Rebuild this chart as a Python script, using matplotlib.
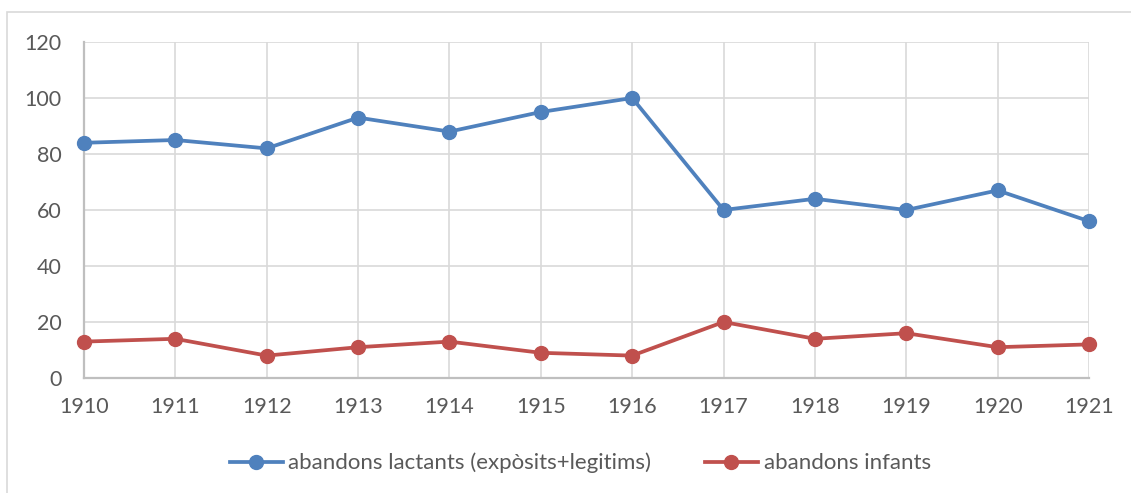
import matplotlib.pyplot as plt
from matplotlib.patches import Rectangle

years = [1910, 1911, 1912, 1913, 1914, 1915, 1916, 1917, 1918, 1919, 1920, 1921]
lactants = [84, 85, 82, 93, 88, 95, 100, 60, 64, 60, 67, 56]
infants = [13, 14, 8, 11, 13, 9, 8, 20, 14, 16, 11, 12]
yticks = [0, 20, 40, 60, 80, 100, 120]

plt.rcParams['font.family'] = ['Lato', 'DejaVu Sans']

W, H = 1131, 493
fig = plt.figure(figsize=(W / 100, H / 100), dpi=100)
fig.patches.append(Rectangle((7 / W, -0.1), 1.2, 1 - 12 / H + 0.1, transform=fig.transFigure,
                             fill=False, edgecolor='#d9d9d9', linewidth=1.2))

ax = fig.add_axes([84 / W, 1 - 378 / H, (1089 - 84) / W, (378 - 42) / H])
ax.plot(years, lactants, color='#4f81bd', lw=2.7, marker='o', ms=10,
        label='abandons lactants (expòsits+legitims)', zorder=3, clip_on=False)
ax.plot(years, infants, color='#c0504d', lw=2.7, marker='o', ms=10,
        label='abandons infants', zorder=3, clip_on=False)

ax.set_xlim(years[0], years[-1])
ax.set_ylim(0, 120)
ax.set_xticks(years)
ax.set_yticks(yticks)
ax.grid(True, color='#d9d9d9', lw=1.2)
ax.set_axisbelow(True)
for s in ['top', 'right']:
    ax.spines[s].set_visible(False)
for s in ['left', 'bottom']:
    ax.spines[s].set_color('#bfbfbf')
    ax.spines[s].set_linewidth(1.6)
    ax.spines[s].set_zorder(2.5)
ax.tick_params(length=0, labelsize=15.5, labelcolor='#595959')
ax.tick_params(axis='x', pad=14)
ax.tick_params(axis='y', pad=16)

fig.legend(loc='center', bbox_to_anchor=(0.513, 1 - 463 / H), ncol=2, frameon=False,
           fontsize=16, labelcolor='#595959', handlelength=2.4, columnspacing=2.4,
           handletextpad=0.25)

fig.savefig('out.png', dpi=100)
